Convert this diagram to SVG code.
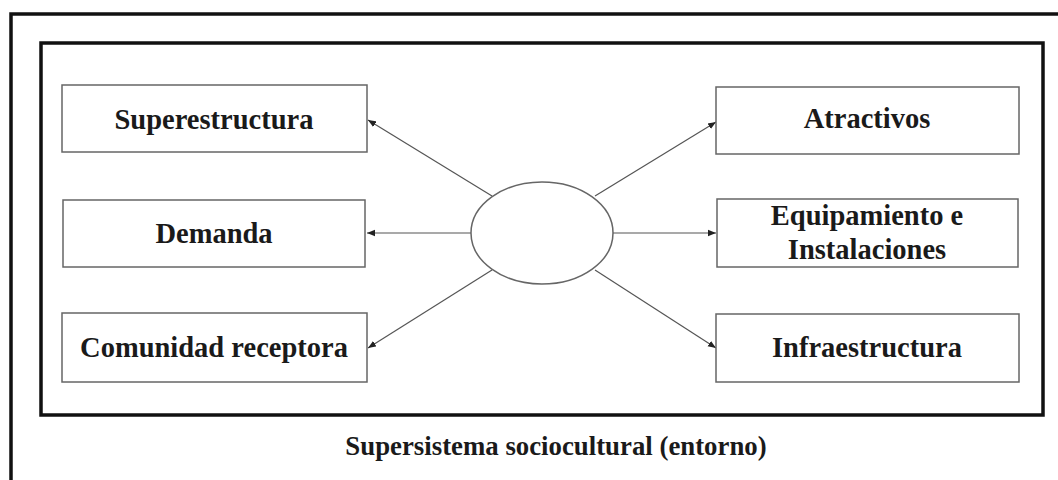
<svg xmlns="http://www.w3.org/2000/svg" width="1058" height="480" viewBox="0 0 1058 480">
<style>
.frame{fill:none;stroke:#111;stroke-width:3.5}
.box{fill:#fff;stroke:#666;stroke-width:1.5}
.lbl{font-family:"Liberation Serif","Times New Roman",serif;font-weight:bold;font-size:28.5px;fill:#1a1a1a;text-anchor:middle}
.ttl{font-size:26.8px}
.conn{stroke:#555;stroke-width:1.2;fill:none;marker-end:url(#ah)}
</style>
<defs>
<marker id="ah" viewBox="0 0 10 10" refX="10" refY="5" markerWidth="8" markerHeight="8" markerUnits="userSpaceOnUse" orient="auto">
<path d="M0,1 L10,5 L0,9 z" fill="#222"/>
</marker>
</defs>
<rect width="1058" height="480" fill="#fff"/>
<g id="outer-frame"><rect class="frame" x="11" y="14" width="1060" height="480"/></g>
<g id="inner-frame"><rect class="frame" x="41" y="43" width="1002" height="372" stroke-width="3"/></g>
<g id="connectors">
<line class="conn" x1="492" y1="196" x2="368" y2="120"/>
<line class="conn" x1="471" y1="233" x2="367" y2="233"/>
<line class="conn" x1="492" y1="270" x2="368" y2="348"/>
<line class="conn" x1="595" y1="196" x2="716" y2="122"/>
<line class="conn" x1="613" y1="233" x2="716" y2="233"/>
<line class="conn" x1="595" y1="270" x2="716" y2="348"/>
</g>
<g id="center"><ellipse cx="542" cy="233" rx="71" ry="51" fill="#fff" stroke="#666" stroke-width="1.5"/></g>
<g id="superestructura"><rect class="box" x="62" y="85" width="305" height="67"/><text class="lbl" x="214" y="129">Superestructura</text></g>
<g id="demanda"><rect class="box" x="63" y="200" width="302" height="67"/><text class="lbl" x="214" y="243">Demanda</text></g>
<g id="comunidad"><rect class="box" x="62" y="313" width="305" height="69"/><text class="lbl" x="214" y="357">Comunidad receptora</text></g>
<g id="atractivos"><rect class="box" x="716" y="87" width="303" height="67"/><text class="lbl" x="867" y="128">Atractivos</text></g>
<g id="equipamiento"><rect class="box" x="717" y="199" width="301" height="68"/><text class="lbl" x="867" y="225">Equipamiento e</text><text class="lbl" x="867" y="259">Instalaciones</text></g>
<g id="infraestructura"><rect class="box" x="716" y="314" width="303" height="68"/><text class="lbl" x="867" y="357">Infraestructura</text></g>
<g id="title"><text class="lbl ttl" x="556" y="455">Supersistema sociocultural (entorno)</text></g>
</svg>
